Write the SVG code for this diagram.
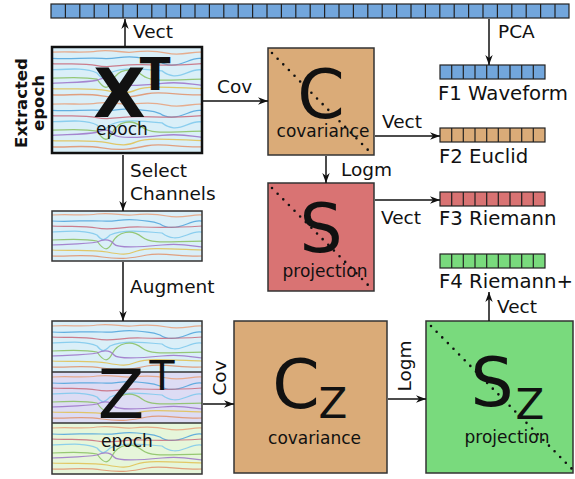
<svg xmlns="http://www.w3.org/2000/svg" xmlns:xlink="http://www.w3.org/1999/xlink" width="575" height="479" viewBox="0 0 575 479">
<style>
text{font-family:"DejaVu Sans","Liberation Sans",sans-serif;fill:#111}
.lbl{font-size:18.5px}
.flbl{font-size:19.7px}
.sub{font-size:17px;text-anchor:middle}
.big{font-size:68px;text-anchor:middle}
.sup{text-anchor:middle}
.bold{font-weight:bold}
.box{stroke:#333;stroke-width:1.5}
.diag{stroke:#111;stroke-width:2.6;stroke-linecap:round;stroke-dasharray:0 8;fill:none}
.conn{stroke:#111;stroke-width:1.5;fill:none;marker-end:url(#ah)}
.w{fill:none;stroke-width:1.25;opacity:0.85}
.grid{stroke:#222;stroke-width:1.2}
</style>
<defs>
<marker id="ah" markerUnits="userSpaceOnUse" markerWidth="11" markerHeight="9" refX="10" refY="4.5" orient="auto">
<path d="M0,0.8 L10,4.5 L0,8.2 L3,4.5 z" fill="#111"/>
</marker>
<g id="sig">
<path class="w" stroke="#e8a07a" d="M0,4 C20,3 30,5 45,3 S70,5 80,4 S100,2 115,5 S140,3 150,4"/>
<path class="w" stroke="#4ea3dc" d="M0,10 C20,11 35,9 50,10 S70,7 85,9 S100,10 108,13 C115,18 125,17 135,13 S145,10 150,10"/>
<path class="w" stroke="#c8687a" d="M0,15 C15,16 30,14 45,17 S70,15 90,16 S120,17 150,15"/>
<path class="w" stroke="#7cc8ec" d="M0,21 C20,20 35,19 45,24 C50,30 52,30 58,24 C70,18 90,20 110,22 C118,28 125,28 135,24 S145,21 150,21"/>
<path class="w" stroke="#88c060" d="M0,29 C20,28 35,28 45,30 C52,40 56,40 60,32 C66,20 80,18 90,26 C100,34 120,30 150,30"/>
<path class="w" stroke="#9b72c8" d="M0,34 C20,33 35,33 45,31 C52,28 58,28 62,33 S90,36 110,34 S140,35 150,36"/>
<path class="w" stroke="#e0c050" d="M0,39 C20,40 40,38 55,41 S75,44 85,40 S120,38 150,39"/>
<path class="w" stroke="#e0906a" d="M0,45 C15,46 30,43 50,46 S80,47 95,44 S130,46 150,45"/>
</g>
</defs>

<!-- top feature bar -->
<g id="bar_top">
<rect x="51" y="4" width="518" height="14" fill="#72a6dc" stroke="#222" stroke-width="1.2"/>
<path class="grid" d="M65.4,4v14M79.8,4v14M94.2,4v14M108.6,4v14M123,4v14M137.4,4v14M151.8,4v14M166.2,4v14M180.6,4v14M195,4v14M209.4,4v14M223.8,4v14M238.2,4v14M252.6,4v14M267,4v14M281.4,4v14M295.8,4v14M310.2,4v14M324.6,4v14M339,4v14M353.4,4v14M367.8,4v14M382.2,4v14M396.6,4v14M411,4v14M425.4,4v14M439.8,4v14M454.2,4v14M468.6,4v14M483,4v14M497.4,4v14M511.8,4v14M526.2,4v14M540.6,4v14M555,4v14"/>
</g>

<!-- extracted epoch label -->
<g id="side_label">
<text class="bold" font-size="16.5" text-anchor="middle" transform="translate(27,103) rotate(-90)">Extracted</text>
<text class="bold" font-size="16.5" text-anchor="middle" transform="translate(44,103) rotate(-90)">epoch</text>
</g>

<!-- X^T -->
<g id="node_X">
<rect x="52" y="47" width="150" height="106" fill="#daeff8"/>
<use xlink:href="#sig" transform="translate(52,48) scale(1,1.04)"/>
<use xlink:href="#sig" transform="translate(52,100) scale(1,1.04)"/>
<rect x="52" y="47" width="150" height="106" fill="none" stroke="#111" stroke-width="2.5"/>
<text class="big bold" x="119.5" y="117">X</text>
<text class="sup bold" font-size="45" x="155" y="90">T</text>
<text class="sub" x="122" y="135">epoch</text>
</g>

<!-- C -->
<g id="node_C">
<rect class="box" x="268" y="48" width="106" height="107" fill="#daab78"/>
<line class="diag" x1="272" y1="53" x2="371" y2="153"/>
<text class="big" x="321" y="118">C</text>
<text class="sub" x="323" y="137">covariance</text>
</g>

<!-- S -->
<g id="node_S">
<rect class="box" x="268" y="183" width="106" height="108" fill="#d97373"/>
<line class="diag" x1="272" y1="188" x2="371" y2="288"/>
<text class="big" x="321" y="252">S</text>
<text class="sub" x="325" y="277">projection</text>
</g>

<!-- selected channels -->
<g id="node_sel">
<rect x="52" y="211" width="150" height="50" fill="#daeff8"/>
<use xlink:href="#sig" transform="translate(52,211)"/>
<rect class="box" x="52" y="211" width="150" height="50" fill="none"/>
</g>

<!-- Z^T -->
<g id="node_Z">
<rect x="52" y="321" width="150" height="51" fill="#daeff8"/>
<rect x="52" y="372" width="150" height="51" fill="#dddcf4"/>
<rect x="52" y="423" width="150" height="51" fill="#e6f6da"/>
<use xlink:href="#sig" transform="translate(52,322)"/>
<use xlink:href="#sig" transform="translate(52,373)"/>
<use xlink:href="#sig" transform="translate(52,424)"/>
<line class="box" x1="52" y1="372" x2="202" y2="372"/>
<line class="box" x1="52" y1="423" x2="202" y2="423"/>
<rect class="box" x="52" y="321" width="150" height="153" fill="none"/>
<text class="big" x="121" y="418">Z</text>
<text class="sup" font-size="41" x="162" y="390">T</text>
<text class="sub" x="127" y="447">epoch</text>
</g>

<!-- Cz -->
<g id="node_Cz">
<rect class="box" x="234" y="321" width="153" height="152" fill="#daab78"/>
<text class="big" x="296" y="408">C</text>
<text class="sup" font-size="42" x="333" y="418">Z</text>
<text class="sub" x="314.5" y="444">covariance</text>
</g>

<!-- Sz -->
<g id="node_Sz">
<rect class="box" x="426" y="321" width="147" height="152" fill="#79da7d"/>
<line class="diag" x1="431" y1="326" x2="572" y2="469"/>
<text class="big" x="492" y="406">S</text>
<text class="sup" font-size="42" x="530" y="419">Z</text>
<text class="sub" x="507" y="443">projection</text>
</g>

<!-- feature bars -->
<g id="F1">
<rect x="440" y="65" width="105" height="14" fill="#72a6dc" stroke="#222" stroke-width="1.2"/>
<path class="grid" d="M451.7,65v14M463.3,65v14M475,65v14M486.7,65v14M498.3,65v14M510,65v14M521.7,65v14M533.3,65v14"/>
<text class="flbl" x="438" y="100">F1 Waveform</text>
</g>
<g id="F2">
<rect x="440" y="128" width="105" height="14" fill="#daab78" stroke="#222" stroke-width="1.2"/>
<path class="grid" d="M451.7,128v14M463.3,128v14M475,128v14M486.7,128v14M498.3,128v14M510,128v14M521.7,128v14M533.3,128v14"/>
<text class="flbl" x="439" y="163">F2 Euclid</text>
</g>
<g id="F3">
<rect x="440" y="192" width="105" height="14" fill="#d97373" stroke="#222" stroke-width="1.2"/>
<path class="grid" d="M451.7,192v14M463.3,192v14M475,192v14M486.7,192v14M498.3,192v14M510,192v14M521.7,192v14M533.3,192v14"/>
<text class="flbl" x="439" y="225">F3 Riemann</text>
</g>
<g id="F4">
<rect x="440" y="254" width="105" height="14" fill="#79da7d" stroke="#222" stroke-width="1.2"/>
<path class="grid" d="M451.7,254v14M463.3,254v14M475,254v14M486.7,254v14M498.3,254v14M510,254v14M521.7,254v14M533.3,254v14"/>
<text class="flbl" x="439" y="288">F4 Riemann+</text>
</g>

<!-- connectors -->
<g id="connectors">
<line class="conn" x1="125" y1="46" x2="125" y2="19"/>
<text class="lbl" x="133" y="38">Vect</text>
<line class="conn" x1="203" y1="101" x2="268" y2="101"/>
<text class="lbl" x="217" y="93">Cov</text>
<line class="conn" x1="489" y1="19" x2="489" y2="65"/>
<text class="lbl" x="498" y="38">PCA</text>
<line class="conn" x1="375" y1="136" x2="440" y2="136"/>
<text class="lbl" x="382" y="128">Vect</text>
<line class="conn" x1="326" y1="156" x2="326" y2="183"/>
<text class="lbl" x="341" y="176">Logm</text>
<line class="conn" x1="375" y1="200" x2="440" y2="200"/>
<text class="lbl" x="381" y="224">Vect</text>
<line class="conn" x1="123" y1="155" x2="123" y2="211"/>
<text class="lbl" x="130" y="177">Select</text>
<text class="lbl" x="130" y="200">Channels</text>
<line class="conn" x1="123" y1="262" x2="123" y2="321"/>
<text class="lbl" x="130" y="293">Augment</text>
<line class="conn" x1="203" y1="404" x2="234" y2="404"/>
<text class="lbl" text-anchor="middle" transform="translate(226,378) rotate(-90)">Cov</text>
<line class="conn" x1="388" y1="399" x2="426" y2="399"/>
<text class="lbl" text-anchor="middle" transform="translate(411,366) rotate(-90)">Logm</text>
<line class="conn" x1="489" y1="321" x2="489" y2="292"/>
<text class="lbl" x="497" y="313">Vect</text>
</g>
</svg>
